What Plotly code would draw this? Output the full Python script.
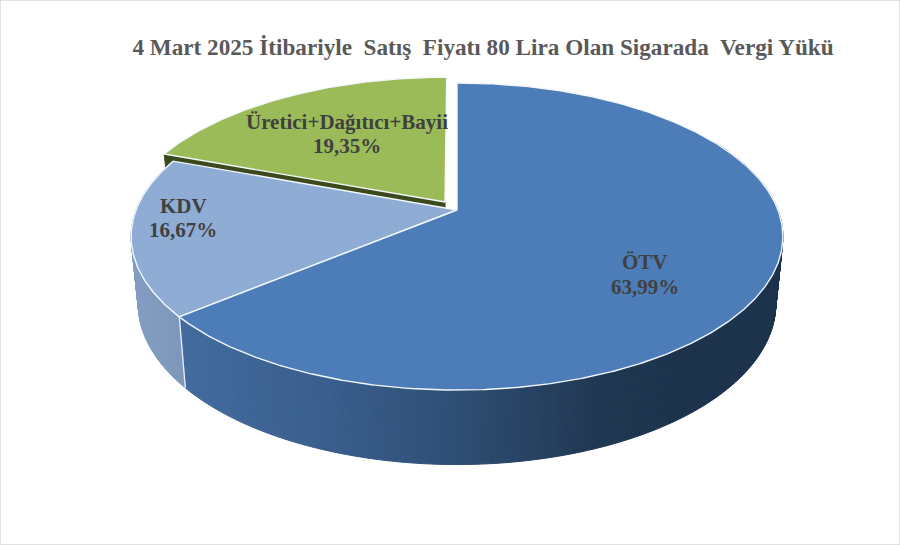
import math
import plotly.graph_objects as go

# Data
categories = ['ÖTV', 'KDV', 'Üretici+Dağıtıcı+Bayii']
shares = [63.99, 16.67, 19.35]
share_labels = ['63,99%', '16,67%', '19,35%']
explode = [0, 0, 0.066]
top_colors = ['#4D7DB9', '#8FADD4', '#9BBB59']
title = '4 Mart 2025 İtibariyle  Satış  Fiyatı 80 Lira Olan Sigarada  Vergi Yükü'

# Camera settings for the tilted disc, worked out from the picture
CX, TOP_Y, BOTTOM_Y = 457, 210, 276
TOP_A, TOP_B = 321, 149
BOTTOM_A, BOTTOM_B = 314, 156
PERSP = 0.1726


def project(theta, radius=1, ex=0, ey=0, bottom=False):
    # theta is clockwise from 12 o'clock, degrees
    u = ex + radius * math.sin(math.radians(theta))
    v = ey - radius * math.cos(math.radians(theta))
    w = 1 - PERSP * v
    if bottom:
        return CX + BOTTOM_A * u / w, BOTTOM_Y + BOTTOM_B * v / w
    return CX + TOP_A * u / w, TOP_Y + TOP_B * v / w


def polygon(fig, points, color, line_color=None, line_width=1):
    fig.add_trace(go.Scatter(
        x=[p[0] for p in points] + [points[0][0]],
        y=[p[1] for p in points] + [points[0][1]],
        mode='lines', fill='toself', fillcolor=color,
        line=dict(color=line_color or color, width=line_width),
        hoverinfo='skip', showlegend=False))


blue_wall = [(180, (66, 107, 158)), (320, (58, 95, 142)), (457, (46, 78, 116)),
             (600, (32, 55, 82)), (680, (29, 51, 77)), (800, (29, 51, 77))]
kdv_wall = [(130, (132, 158, 194)), (190, (124, 150, 186))]


def wall_color(stops, x):
    x = min(max(x, stops[0][0]), stops[-1][0])
    for (x0, c0), (x1, c1) in zip(stops, stops[1:]):
        if x <= x1:
            t = (x - x0) / (x1 - x0)
            rgb = [round(a + (b - a) * t) for a, b in zip(c0, c1)]
            return f'rgb({rgb[0]},{rgb[1]},{rgb[2]})'


# Slice angles from the shares
total = sum(shares)
edges = [0]
for s in shares:
    edges.append(edges[-1] + s / total * 360)

fig = go.Figure()

# Cut face of the pulled-out slice, the KDV top hides most of it
mid = (edges[2] + edges[3]) / 2
ex = explode[2] * math.sin(math.radians(mid))
ey = -explode[2] * math.cos(math.radians(mid))
polygon(fig, [project(0, 0, ex, ey), project(edges[2], 1, ex, ey),
              project(edges[2], 1, ex, ey, bottom=True), project(0, 0, ex, ey, bottom=True)],
        '#3B4A1C')

# Outer walls, thin strips so the shading can run across
walls = [(60, edges[1], blue_wall), (edges[1], edges[2], kdv_wall)]
for start, end, stops in walls:
    steps = max(2, int((end - start) / 0.6))
    for i in range(steps):
        a = start + (end - start) * i / steps
        b = start + (end - start) * (i + 1) / steps
        pts = [project(a), project(b), project(b, bottom=True), project(a, bottom=True)]
        polygon(fig, pts, wall_color(stops, (pts[0][0] + pts[1][0]) / 2))

# White seam where the two walls meet
seam_top = project(edges[1])
seam_bottom = project(edges[1], bottom=True)
fig.add_trace(go.Scatter(x=[seam_top[0], seam_bottom[0]], y=[seam_top[1], seam_bottom[1]],
                         mode='lines', line=dict(color='#E8EEF6', width=1.3),
                         hoverinfo='skip', showlegend=False))

# Top faces
for i in [1, 0, 2]:
    mid = (edges[i] + edges[i + 1]) / 2
    ex = explode[i] * math.sin(math.radians(mid))
    ey = -explode[i] * math.cos(math.radians(mid))
    steps = int(edges[i + 1] - edges[i]) * 2
    rim = [project(edges[i] + (edges[i + 1] - edges[i]) * k / steps, 1, ex, ey)
           for k in range(steps + 1)]
    polygon(fig, [project(0, 0, ex, ey)] + rim, top_colors[i], '#F4F7FB', 1.4)

# Labels, each line placed on its own because the reference lines sit close
label_pos = [(645, 262, 287), (183, 206, 230), (347, 122, 146)]
for name, share, (lx, ly1, ly2) in zip(categories, share_labels, label_pos):
    for text, ly in [(name, ly1), (share, ly2)]:
        fig.add_annotation(x=lx, y=ly, text=f'<b>{text}</b>', showarrow=False,
                           font=dict(family='Liberation Serif', size=21, color='#404040'))

fig.update_layout(
    width=900, height=545,
    margin=dict(l=0, r=0, t=0, b=0),
    paper_bgcolor='white', plot_bgcolor='white',
    showlegend=False,
    title=dict(text=f'<b>{title}</b>', x=483 / 900, xanchor='center', y=1 - 47 / 545, yanchor='middle',
               font=dict(family='Liberation Serif', size=23.2, color='#595959')),
    xaxis=dict(range=[0, 900], visible=False, fixedrange=True),
    yaxis=dict(range=[545, 0], visible=False, fixedrange=True),
    shapes=[dict(type='rect', xref='paper', yref='paper', x0=0, y0=0, x1=1, y1=1,
                 line=dict(color='#D9D9D9', width=1.5))],
)

fig.write_html("out.html", config=dict(displayModeBar=False),
               post_script="document.body.style.margin='0';document.body.style.overflow='hidden';")
